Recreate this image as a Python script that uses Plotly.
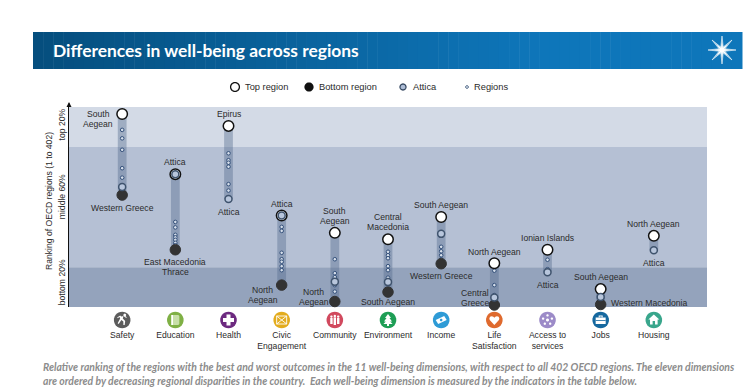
import math
import plotly.graph_objects as go

# ---------- data (rank among 402 OECD regions, 1 = best) ----------
categories = ["Safety", "Education", "Health", "Civic Engagement", "Community", "Environment",
              "Income", "Life Satisfaction", "Access to services", "Jobs", "Housing"]
tick_labels = ["Safety", "Education", "Health", "Civic<br>Engagement", "Community", "Environment",
               "Income", "Life<br>Satisfaction", "Access to<br>services", "Jobs", "Housing"]
top_rank = [14, 135, 38, 218, 253, 266, 221, 314, 287, 366, 259]
bottom_rank = [177, 287, 185, 358, 391, 372, 315, 398, 332, 397, 288]
attica_rank = [161, 135, 185, 218, 351, 352, 255, 383, 332, 382, 288]
other_regions = [
    [46, 63, 86, 123, 142],
    [231, 242, 257, 262, 267, 273, 278],
    [93, 107, 112, 120, 155, 168],
    [241, 249, 293, 306, 311, 320, 328],
    [306, 334, 342, 358, 371],
    [291, 298, 304, 320, 328, 343],
    [281, 290, 298, 306],
    [329, 358, 378],
    [307, 326],
    [],
    [],
]
top_names = ["South<br>Aegean", "Attica", "Epirus", "Attica", "South<br>Aegean", "Central<br>Macedonia",
             "South Aegean", "North Aegean", "Ionian Islands", "South Aegean", "North Aegean"]
bottom_names = ["Western Greece", "East Macedonia<br>Thrace", "Attica", "North<br>Aegean", "North<br>Aegean",
                "South Aegean", "Western Greece", "Central<br>Greece", "Attica", "Western Macedonia", "Attica"]
band_edges = [0, 80, 322, 402]
band_labels = ["top 20%", "middle 60%", "bottom 20%"]
band_ticks = [38, 183, 355]
title_text = "Differences in well-being across regions"
y_title = "Ranking of OECD regions (1 to 402)"
note_lines = [
    "Relative ranking of the regions with the best and worst outcomes in the 11 well-being dimensions, with respect to all 402 OECD regions. The eleven dimensions",
    "are ordered by decreasing regional disparities in the country.\u00a0 Each well-being dimension is measured by the indicators in the table below.",
]

# ---------- layout constants ----------
W, H = 746, 392
L, R, T, B = 69, 39, 107, 85
PW, PH = W - L - R, H - T - B
FONT = "Liberation Sans, Arial, sans-serif"
TXT = "#2b2b2b"
def px(x): return (x - L) / PW
def py(y): return (H - B - y) / PH

# label offsets (px): dx, dy from the mark; +dy is downward
top_off = [(-24, 5), (0, -12), (0, -12), (0, -11), (0, -17), (0, -17), (0, -12), (0, -11), (0, -12), (0, -12), (0, -12)]
bot_off = [(0, 13), (0, 17), (0, 13), (-19, 10), (-21, -5), (0, 10), (0, 12), (-19, -7), (0, 13), (48, -2), (0, 13)]

fig = go.Figure()
# range bars
fig.add_trace(go.Bar(x=categories, y=[b - t for t, b in zip(top_rank, bottom_rank)], base=top_rank,
                     width=0.165, marker=dict(color="rgba(82,106,140,0.40)", line=dict(width=0)),
                     showlegend=False, hoverinfo="skip"))
# other regions
rx, ry = [], []
for c, vals in zip(categories, other_regions):
    rx += [c] * len(vals)
    ry += vals
fig.add_trace(go.Scatter(x=rx, y=ry, mode="markers", name="Regions", showlegend=False, cliponaxis=False,
                         marker=dict(size=3.6, color="#D5DEEA", line=dict(color="#34507A", width=1))))
# where Attica is itself the bottom region, only the Attica ring is drawn
bx = [c for c, b, a in zip(categories, bottom_rank, attica_rank) if b != a]
by = [b for b, a in zip(bottom_rank, attica_rank) if b != a]
fig.add_trace(go.Scatter(x=bx, y=by, mode="markers", name="Bottom region", showlegend=False, cliponaxis=False,
                         marker=dict(size=10.5, color="#333333", line=dict(color="#333333", width=1))))
fig.add_trace(go.Scatter(x=categories, y=top_rank, mode="markers", name="Top region", showlegend=False, cliponaxis=False,
                         marker=dict(size=10.5, color="white", line=dict(color="#111111", width=1.5))))
fig.add_trace(go.Scatter(x=categories, y=attica_rank, mode="markers", name="Attica", showlegend=False, cliponaxis=False,
                         marker=dict(size=7, color="#B8C6DC", line=dict(color="#3F536D", width=1.5))))

# bands
shapes = []
for (a, b), col in zip(zip(band_edges[:-1], band_edges[1:]), ["#D3DAE6", "#B5C0D4", "#94A3BC"]):
    shapes.append(dict(type="rect", xref="paper", yref="y", x0=0, x1=1, y0=a, y1=b, layer="below",
                       fillcolor=col, line=dict(width=0)))
# header gradient
n = 70
c0, c1 = (5, 78, 126), (14, 118, 186)
hx0, hx1, hy0, hy1 = 33, 742, 32, 69
for i in range(n):
    t = min(1, (i / (n - 1)) / 0.72)
    col = tuple(round(c0[k] + (c1[k] - c0[k]) * t) for k in range(3))
    shapes.append(dict(type="rect", xref="paper", yref="paper", layer="below",
                       x0=px(hx0 + (hx1 - hx0) * i / n), x1=px(hx0 + (hx1 - hx0) * (i + 1) / n + 0.5),
                       y0=py(hy1), y1=py(hy0), fillcolor="rgb%s" % (col,), line=dict(width=0)))
# star logo
def star(points=8, ro=14, ri=3.2):
    p = []
    for k in range(points * 2):
        r = ro if k % 2 == 0 else ri
        a = math.pi * k / points + math.pi / 2
        p.append(("M" if k == 0 else "L") + "%.1f,%.1f" % (r * math.cos(a), r * math.sin(a)))
    return " ".join(p) + " Z"
def pix_shape(path, xa, ya, fill, line=None, xref="paper"):
    return dict(type="path", path=path, xsizemode="pixel", ysizemode="pixel", xref=xref, yref="paper",
                xanchor=xa, yanchor=ya, fillcolor=fill, line=line or dict(width=0), layer="above")
shapes.append(pix_shape(star(), px(722), py(50), "rgba(255,255,255,0.55)", dict(color="white", width=0.6)))
shapes.append(pix_shape(star(8, 8, 2.4), px(722), py(50), "white"))
def circ(r, cx=0, cy=0):
    pts = []
    for k in range(28):
        a = 2 * math.pi * k / 28
        pts.append(("M" if k == 0 else "L") + "%.2f,%.2f" % (cx + r * math.cos(a), cy + r * math.sin(a)))
    return " ".join(pts) + " Z"
# legend
legend_items = [(235, 243, "Top region", circ(4.4), "white", dict(color="#111111", width=1.3)),
                (309, 317, "Bottom region", circ(4.6), "#111111", dict(width=0)),
                (403, 411, "Attica", circ(3), "#AEBDD6", dict(color="#33465F", width=1.3)),
                (467, 472, "Regions", circ(1.4), "#D5DEEA", dict(color="#2F4A6D", width=0.9))]
annotations = []
for mx, tx, name, path, fill, ln in legend_items:
    shapes.append(pix_shape(path, px(mx), py(87), fill, ln))
    annotations.append(dict(text=name, xref="paper", yref="paper", x=px(tx), y=py(87), xanchor="left", yanchor="middle",
                            showarrow=False, font=dict(family=FONT, size=9.3, color=TXT)))

# dimension icons
icon_cols = ["#5C5C5C", "#7FB045", "#6D2A80", "#E3AC1E", "#D1495E", "#1E9E55", "#2E9BD6", "#DF6A2E", "#9C8BC8", "#15689F", "#39A68C"]
W_ = "white"
run = "L".join(["M-1,3.5 ", "1.5,4 ", "4,2 ", "4.6,2.8 ", "1.8,5.2 ", "0.6,1.5 ", "3,-1 ", "2.5,-5 ", "1.2,-5 ", "1.2,-1.6 ", "-0.8,0 ", "-3.5,-4 ", "-4.5,-3.2 ", "-2,1.5 ", "-2.6,3 ", "-4.6,1.8 ", "-5,2.6 ", "-2,4.4 "]) + "Z"
heart = "M0,-5 L-4.6,0 L-5,1.6 L-4.3,3.2 L-2.6,3.8 L-1,3.2 L0,2.2 L1,3.2 L2.6,3.8 L4.3,3.2 L5,1.6 L4.6,0 Z"
glyphs = [
    [(run, W_), (circ(1.4, 2.6, 5), W_)],
    [("M-4,5 L3,5 L4,4 L4,-4 L3,-5 L-4,-5 Z", "#C7DFA8"), ("M-4,5 L-2.3,5 L-2.3,-5 L-4,-5 Z", W_)],
    [("M-2,5.5 L2,5.5 L2,2 L5.5,2 L5.5,-2 L2,-2 L2,-5.5 L-2,-5.5 L-2,-2 L-5.5,-2 L-5.5,2 L-2,2 Z", W_)],
    [("M-5,4 L5,4 L5,-4 L-5,-4 Z M-5,4 L5,-4 M5,4 L-5,-4", "rgba(0,0,0,0)")],
    [(circ(1.2, -3.4, 3.4), W_), ("M-4.6,2 L-2.2,2 L-2.2,-4 L-4.6,-4 Z", W_), (circ(1.2, 0, 4), W_), ("M-1.2,2.6 L1.2,2.6 L1.2,-5 L-1.2,-5 Z", W_), (circ(1.2, 3.4, 3.4), W_), ("M2.2,2 L4.6,2 L4.6,-4 L2.2,-4 Z", W_)],
    [("M0,6 L3,2 L1.5,2 L4,-1.5 L2.2,-1.5 L4.6,-4 L1,-4 L1,-6 L-1,-6 L-1,-4 L-4.6,-4 L-2.2,-1.5 L-4,-1.5 L-1.5,2 L-3,2 Z", W_)],
    [("M-5.5,0 L3,4 L5.5,0 L-3,-4 Z", W_), (circ(1.3), "#2E9BD6")],
    [(heart, W_)],
    [(circ(1.5, 0, 0), W_), (circ(1.2, 0, 4.6), W_), (circ(1.2, 4.4, 1.4), W_), (circ(1.2, -4.4, 1.4), W_), (circ(1.2, 2.7, -3.7), W_), (circ(1.2, -2.7, -3.7), W_)],
    [("M-5,2.5 L5,2.5 L5,-4 L-5,-4 Z", W_), ("M-2,2.5 L-2,4.4 L2,4.4 L2,2.5 L1,2.5 L1,3.4 L-1,3.4 L-1,2.5 Z", W_), ("M-5,0 L5,0 L5,-0.8 L-5,-0.8 Z", "#15689F")],
    [("M0,5.5 L5.5,0.5 L3.8,0.5 L3.8,-4.5 L1.2,-4.5 L1.2,-1 L-1.2,-1 L-1.2,-4.5 L-3.8,-4.5 L-3.8,0.5 L-5.5,0.5 Z", W_)],
]
for i, (cat, col, gl) in enumerate(zip(categories, icon_cols, glyphs)):
    shapes.append(pix_shape(circ(8.3), cat, py(320), col, xref="x"))
    for path, fill in gl:
        ln = dict(color=W_, width=0.9) if i == 3 else None
        shapes.append(pix_shape(path, cat, py(320), fill, ln, xref="x"))

# data labels (one annotation per line: the original's lines are 10 px apart)
def add_labels(names, ranks, offs):
    for c, nm, r, (dx, dy) in zip(categories, names, ranks, offs):
        parts = nm.split("<br>")
        for j, part in enumerate(parts):
            ly = dy + (j - (len(parts) - 1) / 2) * 10
            annotations.append(dict(text=part, x=c, y=r, xref="x", yref="y", xshift=dx, yshift=-ly, showarrow=False,
                                    xanchor="center", yanchor="middle", align="center",
                                    font=dict(family=FONT, size=8.6, color=TXT)))
add_labels(top_names, top_rank, top_off)
add_labels(bottom_names, bottom_rank, bot_off)
# title, note, axis title, arrow
annotations.append(dict(text="<b>%s</b>" % title_text, xref="paper", yref="paper", x=px(51), y=py(51), xanchor="left", yanchor="middle",
                        showarrow=False, font=dict(family="Lato, sans-serif", size=17.4, color="white")))
for ln, yy in zip(note_lines, [367, 381]):
    annotations.append(dict(text="<b><i>%s</i></b>" % ln, xref="paper", yref="paper", x=px(41), y=py(yy), xanchor="left", yanchor="middle",
                            showarrow=False, font=dict(family="Lato, sans-serif", size=10.4, color="#8C8C8C")))
annotations.append(dict(text=y_title, xref="paper", yref="paper", x=px(49), y=py(201), xanchor="center", yanchor="middle", textangle=-90,
                        showarrow=False, font=dict(family=FONT, size=8.6, color=TXT)))
annotations.append(dict(text="", xref="paper", yref="paper", x=0, y=py(102), ax=0, ay=6,
                        showarrow=True, arrowhead=2, arrowsize=1, arrowwidth=1, arrowcolor="#111111"))

fig.update_layout(
    width=W, height=H, autosize=False, margin=dict(l=L, r=R, t=T, b=B, pad=0),
    paper_bgcolor="white", plot_bgcolor="rgba(0,0,0,0)", shapes=shapes, annotations=annotations,
    showlegend=False, barmode="overlay", hovermode=False,
    xaxis=dict(type="category", categoryorder="array", categoryarray=categories, range=[-1, 11],
               tickmode="array", tickvals=categories, ticktext=tick_labels, showgrid=False, zeroline=False,
               ticks="", ticklabelstandoff=21, showline=False, tickangle=0,
               tickfont=dict(family=FONT, size=8.6, color=TXT)),
    yaxis=dict(range=[402, 0], tickmode="array", tickvals=band_ticks, ticktext=band_labels, tickangle=-90,
               showgrid=False, zeroline=False, ticks="", showline=True, linecolor="#111111", linewidth=1,
               ticklabelstandoff=0, tickfont=dict(family=FONT, size=8.6, color=TXT)),
)
fig.write_html("out.html", post_script="document.body.style.margin='0';", config=dict(displayModeBar=False))
